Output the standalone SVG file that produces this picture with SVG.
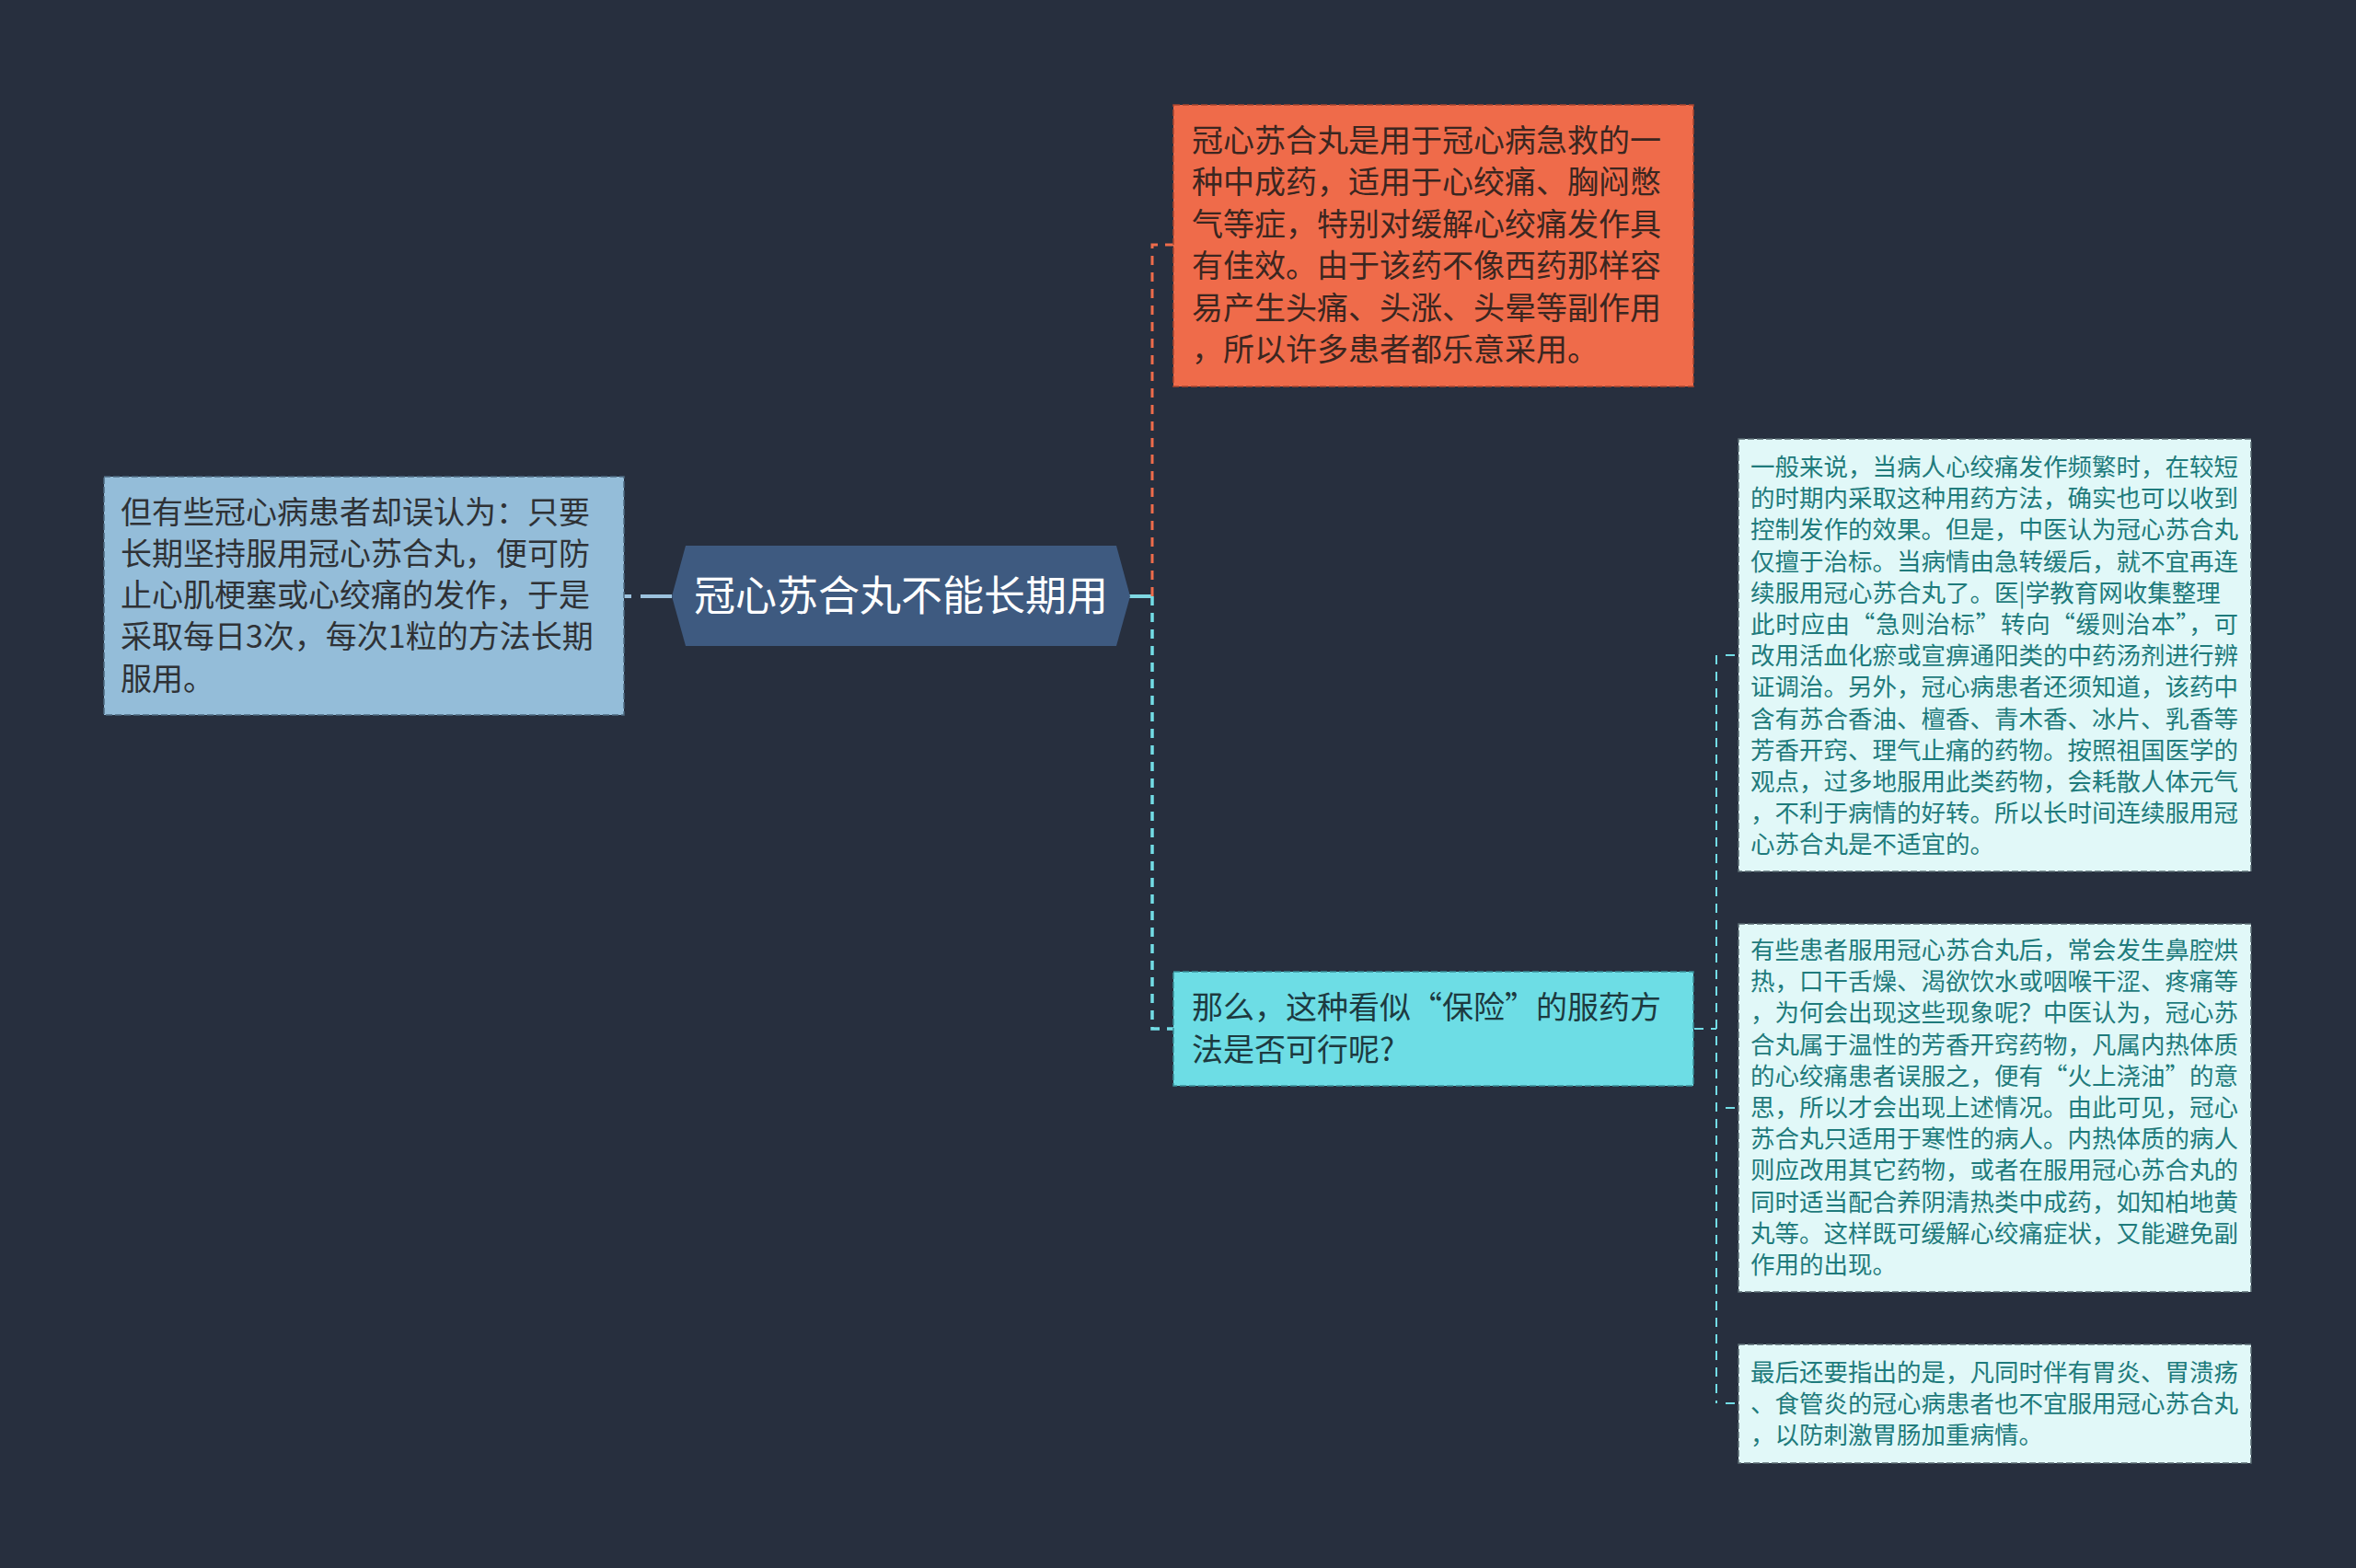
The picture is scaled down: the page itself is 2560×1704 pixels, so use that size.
<svg xmlns="http://www.w3.org/2000/svg" width="2560" height="1704" viewBox="0 0 2560 1704">
<style>
text{font-family:"Noto Sans CJK SC","Noto Sans",sans-serif;}
.bg{fill:#272f3e;}
.conn path{fill:none;}
.main{stroke:#7fd8e3;stroke-width:4;}
.mainl{stroke:#9cc2de;stroke-width:4;}
.orl{stroke:#ee6c4b;stroke-width:3;stroke-dasharray:10 8;}
.cyl{stroke:#73dde6;stroke-width:3.5;stroke-dasharray:10 8;}
.thin{stroke:#73dde6;stroke-width:2;stroke-dasharray:10 8;}
.box{stroke-width:1.5;stroke-dasharray:7 3;}
.t34{font-size:34px;}
.t26{font-size:26.5px;fill:#1f7b7c;}
</style>
<rect class="bg" x="0" y="0" width="2560" height="1704"/>
<g id="connectors" class="conn">
<path class="mainl" d="M678 648 H690" style="stroke-dasharray:8 6"/>
<path class="mainl" d="M696 648 H730"/>
<path class="main" d="M1227 648 H1252"/>
<path class="orl" d="M1252 648 V266 H1275"/>
<path class="cyl" d="M1252 648 V1118 H1275"/>
<path class="thin" d="M1841 1118 H1865"/>
<path class="thin" d="M1865 712 V1525"/>
<path class="thin" d="M1875 712 H1889"/>
<path class="thin" d="M1875 1204 H1889"/>
<path class="thin" d="M1875 1525 H1889"/>
</g>
<g id="center">
<polygon points="745,593 1213,593 1228,648 1213,702 745,702 730,648" fill="#3e5a80"/>
<text x="979" y="664" text-anchor="middle" font-size="45" fill="#ffffff">冠心苏合丸不能长期用</text>
</g>
<g id="left">
<rect class="box" x="113" y="518" width="565" height="259" fill="#94bdd9" stroke="#4e6a80"/>
<g class="t34" fill="#2f3236">
<text x="131" y="569">但有些冠心病患者却误认为：只要</text>
<text x="131" y="614">长期坚持服用冠心苏合丸，便可防</text>
<text x="131" y="659">止心肌梗塞或心绞痛的发作，于是</text>
<text x="131" y="704">采取每日3次，每次1粒的方法长期</text>
<text x="131" y="750">服用。</text>
</g>
</g>
<g id="orange">
<rect class="box" x="1275" y="114" width="565" height="306" fill="#ef6b4a" stroke="#a9462f"/>
<g class="t34" fill="#3b2620">
<text x="1295" y="165">冠心苏合丸是用于冠心病急救的一</text>
<text x="1295" y="210">种中成药，适用于心绞痛、胸闷憋</text>
<text x="1295" y="256">气等症，特别对缓解心绞痛发作具</text>
<text x="1295" y="301">有佳效。由于该药不像西药那样容</text>
<text x="1295" y="347">易产生头痛、头涨、头晕等副作用</text>
<text x="1295" y="392">，所以许多患者都乐意采用。</text>
</g>
</g>
<g id="question">
<rect class="box" x="1275" y="1056" width="565" height="124" fill="#6ddde5" stroke="#3a8f98"/>
<g class="t34" fill="#1d3a40">
<text x="1295" y="1107">那么，这种看似“保险”的服药方</text>
<text x="1295" y="1153">法是否可行呢?</text>
</g>
</g>
<g id="detail1">
<rect class="box" x="1889" y="477" width="557" height="470" fill="#e1f8f8" stroke="#5a6b72"/>
<g class="t26">
<text x="1902" y="517">一般来说，当病人心绞痛发作频繁时，在较短</text>
<text x="1902" y="551">的时期内采取这种用药方法，确实也可以收到</text>
<text x="1902" y="585">控制发作的效果。但是，中医认为冠心苏合丸</text>
<text x="1902" y="620">仅擅于治标。当病情由急转缓后，就不宜再连</text>
<text x="1902" y="654">续服用冠心苏合丸了。医|学教育网收集整理</text>
<text x="1902" y="688" textLength="530" lengthAdjust="spacing">此时应由“急则治标”转向“缓则治本”，可</text>
<text x="1902" y="722">改用活血化瘀或宣痹通阳类的中药汤剂进行辨</text>
<text x="1902" y="756">证调治。另外，冠心病患者还须知道，该药中</text>
<text x="1902" y="791">含有苏合香油、檀香、青木香、冰片、乳香等</text>
<text x="1902" y="825">芳香开窍、理气止痛的药物。按照祖国医学的</text>
<text x="1902" y="859">观点，过多地服用此类药物，会耗散人体元气</text>
<text x="1902" y="893">，不利于病情的好转。所以长时间连续服用冠</text>
<text x="1902" y="927">心苏合丸是不适宜的。</text>
</g>
</g>
<g id="detail2">
<rect class="box" x="1889" y="1004" width="557" height="400" fill="#e1f8f8" stroke="#5a6b72"/>
<g class="t26">
<text x="1902" y="1042">有些患者服用冠心苏合丸后，常会发生鼻腔烘</text>
<text x="1902" y="1076">热，口干舌燥、渴欲饮水或咽喉干涩、疼痛等</text>
<text x="1902" y="1110">，为何会出现这些现象呢？中医认为，冠心苏</text>
<text x="1902" y="1145">合丸属于温性的芳香开窍药物，凡属内热体质</text>
<text x="1902" y="1179">的心绞痛患者误服之，便有“火上浇油”的意</text>
<text x="1902" y="1213">思，所以才会出现上述情况。由此可见，冠心</text>
<text x="1902" y="1247">苏合丸只适用于寒性的病人。内热体质的病人</text>
<text x="1902" y="1281">则应改用其它药物，或者在服用冠心苏合丸的</text>
<text x="1902" y="1316">同时适当配合养阴清热类中成药，如知柏地黄</text>
<text x="1902" y="1350">丸等。这样既可缓解心绞痛症状，又能避免副</text>
<text x="1902" y="1384">作用的出现。</text>
</g>
</g>
<g id="detail3">
<rect class="box" x="1889" y="1461" width="557" height="129" fill="#e1f8f8" stroke="#5a6b72"/>
<g class="t26">
<text x="1902" y="1501">最后还要指出的是，凡同时伴有胃炎、胃溃疡</text>
<text x="1902" y="1535">、食管炎的冠心病患者也不宜服用冠心苏合丸</text>
<text x="1902" y="1569">，以防刺激胃肠加重病情。</text>
</g>
</g>
</svg>
